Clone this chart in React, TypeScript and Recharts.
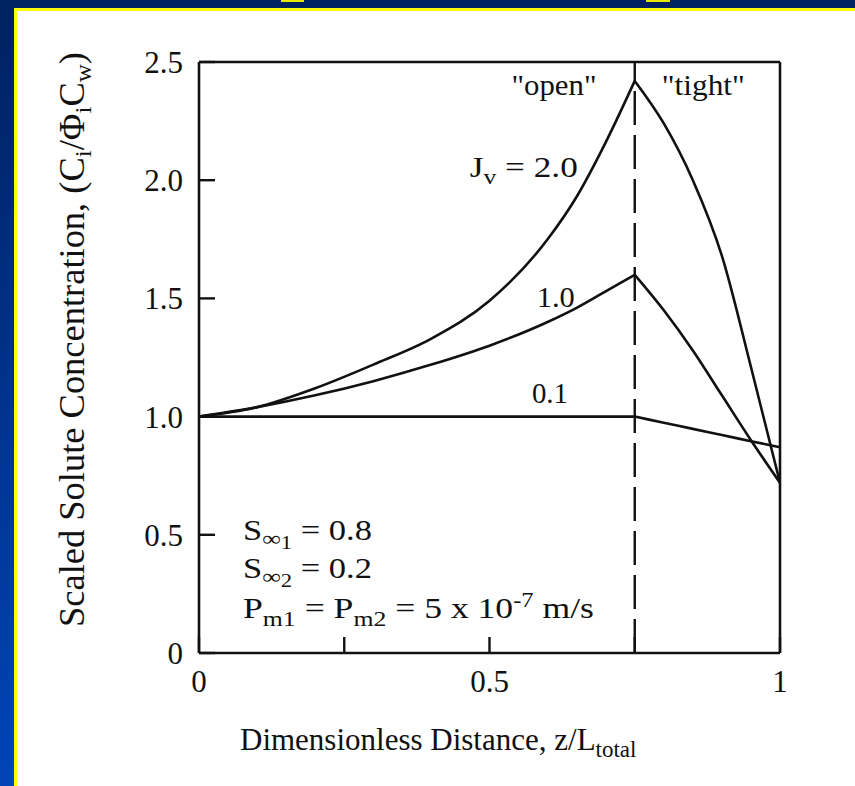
import React from "react";
import { LineChart, Line, XAxis, YAxis, ReferenceLine, ReferenceDot } from "recharts";

const SERIF = '"Liberation Serif", "DejaVu Serif", serif';
const INK = "#111";

const X_TICKS = [0, 0.25, 0.5, 0.75, 1];
const X_LABELLED = [0, 0.5, 1];
const Y_TICKS = [0, 0.5, 1, 1.5, 2, 2.5];

// "open" membrane part, z/L from 0 to 0.75
const OPEN_X = [0, 0.1, 0.2, 0.3, 0.4, 0.5, 0.6, 0.65, 0.7, 0.75];
const JV2_OPEN = [1.0, 1.04, 1.12, 1.22, 1.33, 1.49, 1.75, 1.93, 2.16, 2.42];
const JV1_OPEN = [1.0, 1.04, 1.09, 1.15, 1.22, 1.3, 1.4, 1.46, 1.53, 1.6];
const JV01_OPEN = [1.0, 1.0, 1.0, 1.0, 1.0, 1.0, 1.0, 1.0, 1.0, 1.0];

// "tight" part, z/L from 0.75 to 1
const TIGHT_X = [0.75, 0.8, 0.85, 0.9, 0.95, 1];
const JV2_TIGHT = [2.42, 2.24, 2.0, 1.68, 1.21, 0.72];
const JV1_TIGHT = [1.6, 1.45, 1.28, 1.09, 0.9, 0.72];
const JV01_TIGHT = [1.0, 0.974, 0.948, 0.922, 0.896, 0.87];

const JUNCTION = 0.75;

const pts = (xs: number[], ys: number[]) => xs.map((x, i) => ({ x, y: ys[i] }));

const CURVES = [
  pts(OPEN_X, JV2_OPEN),
  pts(TIGHT_X, JV2_TIGHT),
  pts(OPEN_X, JV1_OPEN),
  pts(TIGHT_X, JV1_TIGHT),
  pts(OPEN_X, JV01_OPEN),
  pts(TIGHT_X, JV01_TIGHT),
];

// the scanned lettering is a bit wider than Liberation Serif, so stretch to the measured width
function Anno({ viewBox, anchor = "start", size = 29, len, children }: any) {
  return (
    <text
      x={viewBox?.x ?? 0}
      y={viewBox?.y ?? 0}
      textAnchor={anchor}
      fontFamily={SERIF}
      fontSize={size}
      fill={INK}
      textLength={len}
      lengthAdjust="spacingAndGlyphs"
    >
      {children}
    </text>
  );
}

export default function App() {
  const axisLine = { stroke: INK, strokeWidth: 2.6 };
  const tickLine = { stroke: INK, strokeWidth: 2.4 };
  const tickText = { fill: INK, fontFamily: SERIF, fontSize: 31 };
  return (
    <div
      style={{
        position: "absolute",
        left: 0,
        top: 0,
        width: 855,
        height: 786,
        overflow: "hidden",
        background: "linear-gradient(180deg, #00215f 0%, #0044b8 100%)",
      }}
    >
      <div
        style={{
          position: "absolute",
          left: 14,
          top: 8,
          width: 900,
          height: 900,
          background: "#fff",
          borderLeft: "3px solid #ffff00",
          borderTop: "3px solid #ffff00",
        }}
      />
      <div style={{ position: "absolute", left: 281, top: 0, width: 23, height: 1.5, background: "#e8e800" }} />
      <div style={{ position: "absolute", left: 646, top: 0, width: 24, height: 1.5, background: "#e8e800" }} />
      <div style={{ position: "absolute", left: 0, top: 0 }}>
        <LineChart width={855} height={786} margin={{ top: 52, right: 65, bottom: 93, left: 139 }}>
          <XAxis
            xAxisId="b"
            dataKey="x"
            type="number"
            domain={[0, 1]}
            ticks={X_TICKS}
            interval={0}
            height={40}
            axisLine={axisLine}
            tickLine={tickLine}
            tickSize={-16}
            tickMargin={33}
            tick={tickText}
            tickFormatter={(v) => (X_LABELLED.includes(v) ? String(v) : "")}
            allowDataOverflow
          />
          <XAxis
            xAxisId="t"
            orientation="top"
            type="number"
            domain={[0, 1]}
            ticks={X_TICKS}
            interval={0}
            height={10}
            axisLine={axisLine}
            tickLine={tickLine}
            tickSize={-16}
            tick={false}
            allowDataOverflow
          />
          <YAxis
            yAxisId="l"
            type="number"
            domain={[0, 2.5]}
            ticks={Y_TICKS}
            interval={0}
            width={60}
            axisLine={axisLine}
            tickLine={tickLine}
            tickSize={-16}
            tickMargin={32}
            tick={tickText}
            tickFormatter={(v) => (v === 0 ? "0" : Number(v).toFixed(1))}
            allowDataOverflow
          />
          <YAxis
            yAxisId="r"
            orientation="right"
            type="number"
            domain={[0, 2.5]}
            ticks={Y_TICKS}
            interval={0}
            width={10}
            axisLine={axisLine}
            tickLine={tickLine}
            tickSize={-16}
            tick={false}
            allowDataOverflow
          />
          <ReferenceLine
            xAxisId="b"
            yAxisId="l"
            x={JUNCTION}
            stroke={INK}
            strokeWidth={2.4}
            strokeDasharray="34 10"
          />
          {CURVES.map((d, i) => (
            <Line
              key={i}
              data={d}
              xAxisId="b"
              yAxisId="l"
              dataKey="y"
              type="monotone"
              dot={false}
              activeDot={false}
              stroke={INK}
              strokeWidth={2.6}
              isAnimationActive={false}
            />
          ))}
          <ReferenceDot xAxisId="b" yAxisId="l" x={0.611} y={2.36} r={0} label={<Anno anchor="middle" len={85}>"open"</Anno>} />
          <ReferenceDot xAxisId="b" yAxisId="l" x={0.868} y={2.36} r={0} label={<Anno anchor="middle" len={83}>"tight"</Anno>} />
          <ReferenceDot
            xAxisId="b"
            yAxisId="l"
            x={0.652}
            y={2.013}
            r={0}
            label={
              <Anno anchor="end" len={108}>
                J<tspan dy={7} fontSize={21}>v</tspan>
                <tspan dy={-7}> = 2.0</tspan>
              </Anno>
            }
          />
          <ReferenceDot xAxisId="b" yAxisId="l" x={0.614} y={1.464} r={0} label={<Anno anchor="middle" len={38}>1.0</Anno>} />
          <ReferenceDot xAxisId="b" yAxisId="l" x={0.604} y={1.058} r={0} label={<Anno anchor="middle" len={36}>0.1</Anno>} />
          <ReferenceDot
            xAxisId="b"
            yAxisId="l"
            x={0.0757}
            y={0.478}
            r={0}
            label={
              <Anno len={129}>
                S<tspan dy={6} fontSize={22}>∞</tspan>
                <tspan dy={3} fontSize={19}>1</tspan>
                <tspan dy={-9}> = 0.8</tspan>
              </Anno>
            }
          />
          <ReferenceDot
            xAxisId="b"
            yAxisId="l"
            x={0.0757}
            y={0.317}
            r={0}
            label={
              <Anno len={129}>
                S<tspan dy={6} fontSize={22}>∞</tspan>
                <tspan dy={3} fontSize={19}>2</tspan>
                <tspan dy={-9}> = 0.2</tspan>
              </Anno>
            }
          />
          <ReferenceDot
            xAxisId="b"
            yAxisId="l"
            x={0.0757}
            y={0.148}
            r={0}
            label={
              <Anno len={351}>
                P<tspan dy={8} fontSize={21}>m1</tspan>
                <tspan dy={-8}> = P</tspan>
                <tspan dy={8} fontSize={21}>m2</tspan>
                <tspan dy={-8}> = 5 x 10</tspan>
                <tspan dy={-11} fontSize={20}>-7</tspan>
                <tspan dy={11}> m/s</tspan>
              </Anno>
            }
          />
          <text x={240} y={750} fontFamily={SERIF} fontSize={31} fill={INK}>
            Dimensionless Distance, z/L
            <tspan dy={7} fontSize={23}>total</tspan>
          </text>
          <text
            x={84}
            y={627}
            transform="rotate(-90 84 627)"
            fontFamily={SERIF}
            fontSize={35}
            fill={INK}
            textLength={575}
            lengthAdjust="spacingAndGlyphs"
          >
            Scaled Solute Concentration, (C
            <tspan dy={7} fontSize={24}>i</tspan>
            <tspan dy={-7}>/Φ</tspan>
            <tspan dy={7} fontSize={24}>i</tspan>
            <tspan dy={-7}>C</tspan>
            <tspan dy={7} fontSize={24}>w</tspan>
            <tspan dy={-7}>)</tspan>
          </text>
        </LineChart>
      </div>
    </div>
  );
}
